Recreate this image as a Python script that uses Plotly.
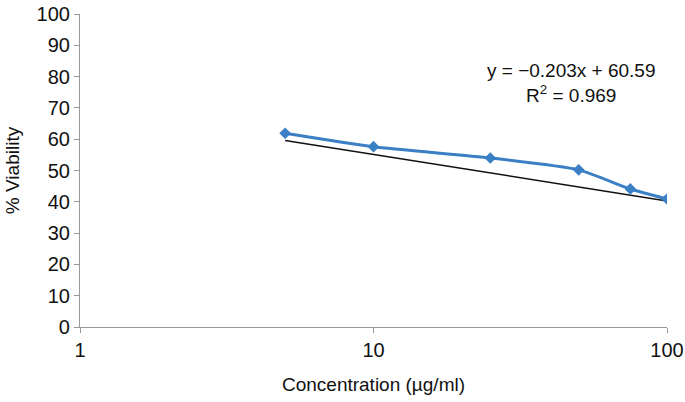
import plotly.graph_objects as go

conc = [5, 10, 25, 50, 75, 100]
viability = [61.9, 57.6, 54.0, 50.2, 44.1, 40.9]
slope = -0.203
intercept = 60.59
trend_x = [5, 100]
trend_y = [slope * x + intercept for x in trend_x]
y_ticks = list(range(0, 101, 10))
x_ticks = [1, 10, 100]

FONT = "Liberation Sans, Arial"

fig = go.Figure()
fig.add_trace(go.Scatter(
    x=trend_x, y=trend_y, mode="lines",
    line=dict(color="#111111", width=1.5), showlegend=False, hoverinfo="skip"))
fig.add_trace(go.Scatter(
    x=conc, y=viability, mode="lines+markers",
    line=dict(color="#3b7fc4", width=3, shape="spline", smoothing=0.6),
    marker=dict(symbol="diamond", size=9, color="#3b7fc4"),
    showlegend=False))

fig.add_annotation(
    x=0.838, y=78, xref="paper", yref="y", xanchor="center", yanchor="middle",
    text="y = −0.203x + 60.59<br>R<sup>2</sup> = 0.969",
    showarrow=False, align="center",
    font=dict(family=FONT, size=19, color="#111111"))

axis_common = dict(showline=True, linecolor="#999999", linewidth=1.2,
                   ticks="outside", ticklen=5, tickcolor="#999999",
                   showgrid=False, zeroline=False, automargin=False,
                   tickfont=dict(family=FONT, size=20, color="#111111"))

fig.update_xaxes(type="log", range=[0, 2], tickvals=x_ticks,
                 ticktext=[str(v) for v in x_ticks],
                 title=dict(text="Concentration (µg/ml)", standoff=17,
                            font=dict(family=FONT, size=19, color="#111111")),
                 **axis_common)
fig.update_yaxes(range=[0, 100], tickvals=y_ticks,
                 title=dict(text="% Viability", standoff=11,
                            font=dict(family=FONT, size=19, color="#111111")),
                 **axis_common)

fig.update_layout(
    width=685, height=402,
    margin=dict(l=80, r=18, t=14, b=75),
    paper_bgcolor="white", plot_bgcolor="white")

fig.write_html("out.html", config={"displayModeBar": False},
               post_script="document.body.style.margin='0';document.body.style.overflow='hidden';")
